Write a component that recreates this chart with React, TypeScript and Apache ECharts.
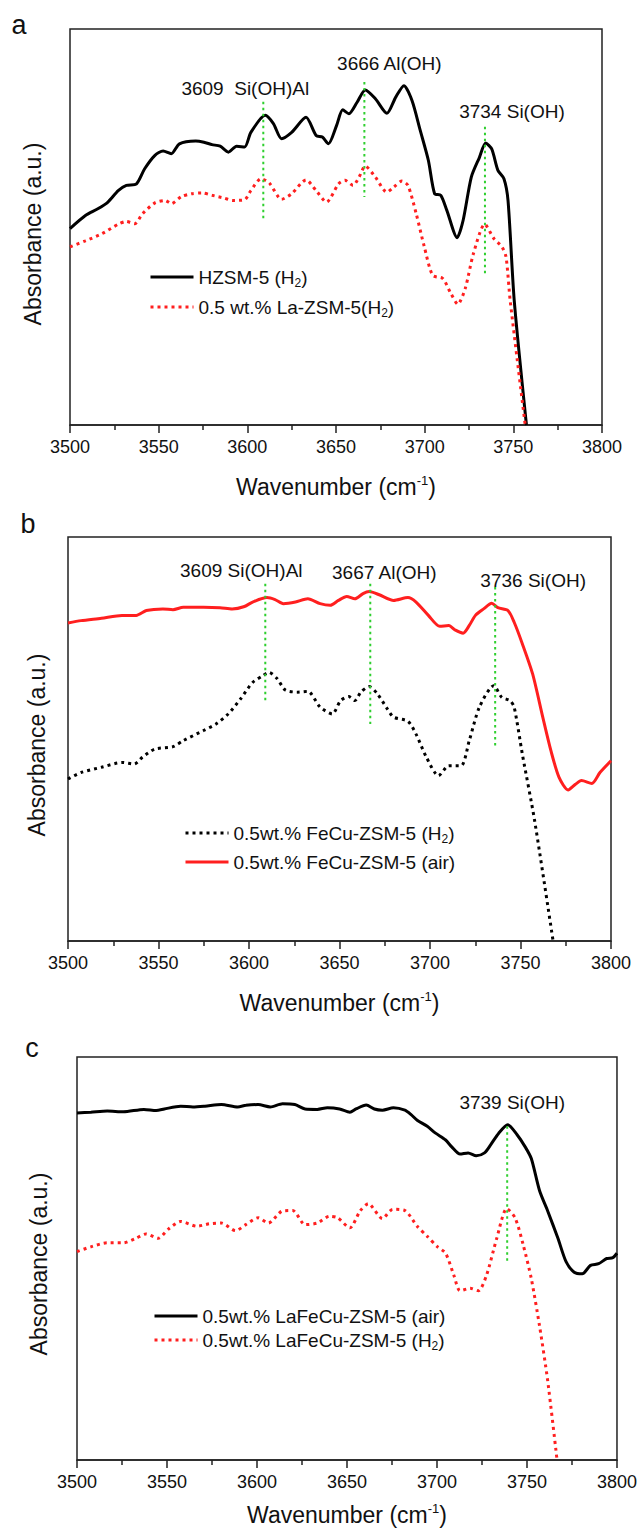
import React, { useEffect, useRef } from "react";
import * as echarts from "echarts";

const FONT = "'Liberation Sans', Arial, Helvetica, sans-serif";

// ---------- shared axis ----------
const X_MIN = 3500;
const X_MAX = 3800;
const X_STEP = 50;

// ---------- panel a ----------
const aHZSM5: [number, number][] = [
  [3500, 0.496], [3508.7, 0.529], [3515.7, 0.546], [3521.4, 0.563], [3527.2, 0.592],
  [3531.8, 0.605], [3537.5, 0.609], [3542.1, 0.647], [3547.9, 0.681], [3552.5, 0.692],
  [3557.1, 0.685], [3561.7, 0.71], [3570.9, 0.717], [3575.5, 0.714], [3580.1, 0.708],
  [3584.7, 0.704], [3589.3, 0.689], [3593.9, 0.704], [3598.5, 0.702], [3602.0, 0.739],
  [3610.1, 0.782], [3614.7, 0.761], [3619.3, 0.723], [3625.0, 0.739], [3633.1, 0.777],
  [3638.8, 0.731], [3642.3, 0.727], [3645.7, 0.71], [3650.3, 0.756], [3653.8, 0.796],
  [3657.3, 0.786], [3661.9, 0.815], [3666.5, 0.846], [3672.2, 0.824], [3678.7, 0.787],
  [3683.7, 0.828], [3688.3, 0.857], [3692.9, 0.819], [3697.5, 0.744], [3702.1, 0.668],
  [3705.6, 0.584], [3709.1, 0.58], [3712.5, 0.542], [3718.3, 0.473], [3721.7, 0.517],
  [3726.3, 0.626], [3730.9, 0.676], [3734.4, 0.712], [3737.8, 0.697], [3741.3, 0.643],
  [3744.7, 0.622], [3747.0, 0.567], [3750.5, 0.315], [3757.4, 0.0],
];
const aLaZSM5: [number, number][] = [
  [3500, 0.45], [3508.7, 0.465], [3518.0, 0.483], [3527.2, 0.507], [3531.8, 0.514],
  [3536.4, 0.508], [3541.0, 0.534], [3547.9, 0.561], [3553.6, 0.567], [3557.1, 0.559],
  [3562.9, 0.577], [3568.6, 0.584], [3574.4, 0.586], [3580.1, 0.58], [3587.0, 0.573],
  [3591.6, 0.567], [3598.5, 0.569], [3602.0, 0.592], [3607.8, 0.622], [3612.4, 0.611],
  [3619.3, 0.57], [3625.0, 0.584], [3633.1, 0.619], [3638.8, 0.592], [3644.6, 0.563],
  [3651.5, 0.609], [3655.0, 0.618], [3659.6, 0.605], [3663.0, 0.626], [3666.5, 0.654],
  [3672.2, 0.626], [3678.7, 0.588], [3682.6, 0.601], [3687.2, 0.616], [3690.6, 0.605],
  [3695.2, 0.534], [3699.8, 0.45], [3704.5, 0.378], [3710.2, 0.37], [3714.8, 0.332],
  [3718.7, 0.305], [3722.9, 0.345], [3727.5, 0.433], [3733.9, 0.507], [3739.0, 0.471],
  [3743.6, 0.45], [3745.9, 0.424], [3748.2, 0.315], [3756.7, 0.0],
];
const aPeaks = [
  { wn: 3609, top: 0.816, bottom: 0.521, text: "3609  Si(OH)Al" },
  { wn: 3666, top: 0.866, bottom: 0.576, text: "3666 Al(OH)" },
  { wn: 3734, top: 0.753, bottom: 0.376, text: "3734 Si(OH)" },
];

// ---------- panel b ----------
const bFeCuAir: [number, number][] = [
  [3500, 0.787], [3507.2, 0.793], [3518.5, 0.799], [3529.8, 0.806], [3537.7, 0.806],
  [3543.3, 0.818], [3552.4, 0.822], [3558.0, 0.82], [3563.7, 0.826], [3574.9, 0.826],
  [3584.0, 0.825], [3590.7, 0.822], [3597.5, 0.828], [3602.0, 0.839], [3609.9, 0.85],
  [3614.4, 0.845], [3619.0, 0.835], [3625.7, 0.839], [3632.5, 0.847], [3639.3, 0.835],
  [3644.9, 0.831], [3649.4, 0.843], [3654.0, 0.853], [3658.5, 0.847], [3663.0, 0.86],
  [3666.4, 0.865], [3672.0, 0.857], [3679.9, 0.843], [3687.8, 0.85], [3692.3, 0.839],
  [3699.1, 0.806], [3705.4, 0.779], [3710.4, 0.781], [3713.8, 0.77], [3718.3, 0.762],
  [3721.7, 0.781], [3725.1, 0.806], [3729.6, 0.822], [3734.1, 0.836], [3737.5, 0.825],
  [3743.1, 0.818], [3746.5, 0.789], [3751.0, 0.736], [3756.7, 0.661], [3762.3, 0.554],
  [3766.8, 0.471], [3771.3, 0.405], [3776.3, 0.374], [3780.4, 0.388], [3783.7, 0.397],
  [3789.4, 0.39], [3793.9, 0.417], [3800, 0.446],
];
const bFeCuH2: [number, number][] = [
  [3500, 0.401], [3507.2, 0.417], [3518.5, 0.43], [3529.8, 0.442], [3536.6, 0.438],
  [3541.1, 0.455], [3547.9, 0.475], [3558.0, 0.481], [3563.7, 0.496], [3574.9, 0.521],
  [3581.7, 0.537], [3588.5, 0.562], [3595.3, 0.599], [3602.0, 0.64], [3607.7, 0.657],
  [3611.1, 0.665], [3615.6, 0.649], [3620.1, 0.621], [3626.9, 0.616], [3632.5, 0.618],
  [3639.3, 0.579], [3646.0, 0.562], [3650.6, 0.595], [3655.1, 0.605], [3658.5, 0.595],
  [3661.8, 0.616], [3666.4, 0.63], [3670.9, 0.612], [3676.5, 0.574], [3679.9, 0.554],
  [3687.8, 0.544], [3692.3, 0.512], [3698.0, 0.455], [3704.7, 0.409], [3710.4, 0.434],
  [3717.2, 0.434], [3721.7, 0.496], [3727.3, 0.579], [3735.2, 0.632], [3739.7, 0.603],
  [3744.2, 0.595], [3746.5, 0.579], [3751.0, 0.463], [3757.8, 0.298], [3768.0, 0.0],
];
const bPeaks = [
  { wn: 3609, top: 0.884, bottom: 0.595, text: "3609 Si(OH)Al" },
  { wn: 3667, top: 0.884, bottom: 0.537, text: "3667 Al(OH)" },
  { wn: 3736, top: 0.876, bottom: 0.483, text: "3736 Si(OH)" },
];

// ---------- panel c ----------
const cLaFeCuAir: [number, number][] = [
  [3500, 0.861], [3507.7, 0.863], [3516.8, 0.866], [3525.8, 0.864], [3537.2, 0.87],
  [3544.0, 0.867], [3548.5, 0.871], [3557.6, 0.878], [3564.4, 0.876], [3571.1, 0.878],
  [3580.2, 0.882], [3589.3, 0.876], [3593.8, 0.88], [3600.6, 0.882], [3607.4, 0.876],
  [3614.2, 0.884], [3621.0, 0.882], [3626.7, 0.871], [3633.5, 0.87], [3639.1, 0.874],
  [3645.9, 0.871], [3651.6, 0.863], [3655.0, 0.871], [3660.7, 0.881], [3665.2, 0.871],
  [3669.7, 0.868], [3675.8, 0.874], [3682.2, 0.868], [3685.6, 0.857], [3689.0, 0.843],
  [3694.6, 0.828], [3699.2, 0.811], [3704.8, 0.794], [3708.2, 0.777], [3712.8, 0.759],
  [3717.3, 0.762], [3721.8, 0.755], [3726.4, 0.762], [3729.8, 0.782], [3734.3, 0.811],
  [3739.3, 0.832], [3744.5, 0.807], [3749.0, 0.777], [3752.4, 0.748], [3757.0, 0.668],
  [3761.5, 0.618], [3767.2, 0.55], [3771.7, 0.492], [3776.2, 0.466], [3780.7, 0.462],
  [3785.3, 0.483], [3789.8, 0.487], [3794.3, 0.5], [3797.7, 0.502], [3800, 0.513],
];
const cLaFeCuH2: [number, number][] = [
  [3500, 0.517], [3507.7, 0.529], [3516.8, 0.539], [3525.8, 0.539], [3532.6, 0.55],
  [3538.3, 0.561], [3545.1, 0.55], [3550.8, 0.573], [3557.6, 0.592], [3566.6, 0.58],
  [3573.4, 0.586], [3580.2, 0.588], [3588.1, 0.569], [3593.8, 0.584], [3600.6, 0.601],
  [3606.3, 0.588], [3614.2, 0.618], [3619.9, 0.619], [3626.7, 0.584], [3633.5, 0.588],
  [3640.3, 0.605], [3644.8, 0.601], [3651.6, 0.576], [3657.3, 0.618], [3661.8, 0.636],
  [3669.7, 0.599], [3675.4, 0.622], [3682.2, 0.619], [3689.0, 0.58], [3694.6, 0.555],
  [3700.3, 0.529], [3704.8, 0.513], [3709.4, 0.458], [3712.8, 0.42], [3718.4, 0.426],
  [3723.0, 0.42], [3727.5, 0.458], [3733.2, 0.55], [3738.8, 0.624], [3743.4, 0.601],
  [3747.9, 0.534], [3752.4, 0.45], [3757.0, 0.332], [3761.5, 0.197], [3766.7, 0.0],
];
const cPeaks = [{ wn: 3739, top: 0.828, bottom: 0.492, text: "3739 Si(OH)" }];

// ---------- layout (positions / styles) ----------
const GRIDS = [
  { left: 70, top: 29, width: 532, height: 396 },
  { left: 68, top: 537, width: 543, height: 404 },
  { left: 77, top: 1057, width: 540, height: 403 },
];
const PEAK_LABEL_OFFSETS = [
  [[-18, -13], [25, -19], [27, -15]],
  [[-24, -13], [14, -11], [38, -7]],
  [[5, -24]],
];
const LEGENDS = [
  { left: 149, top: 265, gap: 6 },
  { left: 184, top: 821, gap: 5 },
  { left: 153, top: 1304, gap: 0 },
];
const PANEL_LETTERS = [
  { t: "a", x: 19, y: 25 },
  { t: "b", x: 28, y: 524 },
  { t: "c", x: 32, y: 1048 },
];
const X_TITLE_Y = [487, 1003, 1515];
const Y_TITLE = [
  { x: 33, y: 234 },
  { x: 37, y: 745 },
  { x: 39, y: 1264 },
];

const BLACK = "#000000";
const RED = "#ff1f1f";
const GREEN = "#2fcf2f";
const DOT: number[] = [3, 4];
const TEXT = "#111111";

const subRich = {
  sub: { fontSize: 12, lineHeight: 12, verticalAlign: "bottom", fontFamily: FONT, color: TEXT },
};

function curve(name: string, data: [number, number][], gi: number, color: string, dotted: boolean) {
  return {
    type: "line",
    name,
    data,
    xAxisIndex: gi,
    yAxisIndex: gi,
    symbol: "none",
    showSymbol: false,
    smooth: 0.25,
    silent: true,
    z: 3,
    lineStyle: { color, width: 3, type: dotted ? DOT : "solid", cap: "butt" },
    itemStyle: { color },
  };
}

function peakSeries(peaks: { wn: number; top: number; bottom: number; text: string }[], gi: number) {
  const out: any[] = [];
  peaks.forEach((p, i) => {
    out.push({
      type: "line",
      data: [[p.wn, p.top], [p.wn, p.bottom]],
      xAxisIndex: gi,
      yAxisIndex: gi,
      symbol: "none",
      silent: true,
      z: 4,
      lineStyle: { color: GREEN, width: 2, type: [2.5, 3.5] },
    });
    const off = PEAK_LABEL_OFFSETS[gi][i];
    out.push({
      type: "scatter",
      data: [[p.wn, p.top]],
      xAxisIndex: gi,
      yAxisIndex: gi,
      symbolSize: 1,
      silent: true,
      z: 5,
      itemStyle: { color: "rgba(0,0,0,0)" },
      label: {
        show: true,
        position: "inside",
        offset: off,
        formatter: () => p.text,
        fontSize: 19,
        fontFamily: FONT,
        color: TEXT,
        textBorderWidth: 0,
        textBorderColor: "transparent",
        opacity: 1,
      },
    });
  });
  return out;
}

export default function App() {
  const ref = useRef<HTMLDivElement>(null);

  useEffect(() => {
    if (!ref.current) return;
    const chart = echarts.init(ref.current, undefined, { renderer: "svg" });

    const panelSeries = [
      [
        curve("HZSM-5 (H2)", aHZSM5, 0, BLACK, false),
        curve("0.5 wt.% La-ZSM-5(H2)", aLaZSM5, 0, RED, true),
      ],
      [
        curve("0.5wt.% FeCu-ZSM-5 (H2)", bFeCuH2, 1, BLACK, true),
        curve("0.5wt.% FeCu-ZSM-5 (air)", bFeCuAir, 1, RED, false),
      ],
      [
        curve("0.5wt.% LaFeCu-ZSM-5 (air)", cLaFeCuAir, 2, BLACK, false),
        curve("0.5wt.% LaFeCu-ZSM-5 (H2)", cLaFeCuH2, 2, RED, true),
      ],
    ];

    const series: any[] = [];
    panelSeries.forEach((ps) => ps.forEach((s) => series.push(s)));
    series.push(...peakSeries(aPeaks, 0), ...peakSeries(bPeaks, 1), ...peakSeries(cPeaks, 2));

    const legends = panelSeries.map((ps, i) => ({
      orient: "vertical",
      left: LEGENDS[i].left,
      top: LEGENDS[i].top,
      padding: 0,
      itemGap: LEGENDS[i].gap,
      itemWidth: 43,
      itemHeight: 14,
      selectedMode: false,
      data: ps.map((s) => s.name),
      lineStyle: { width: 3 },
      itemStyle: { opacity: 0 },
      formatter: (n: string) => n.replace("(H2)", "(H{sub|2})"),
      textStyle: {
        fontSize: 19,
        fontFamily: FONT,
        color: TEXT,
        lineHeight: 24,
        rich: subRich,
      },
    }));

    const graphic: any[] = [];
    PANEL_LETTERS.forEach((l) =>
      graphic.push({
        type: "text",
        x: l.x,
        y: l.y,
        style: { text: l.t, fontSize: 27, fontFamily: FONT, fill: TEXT, align: "center", verticalAlign: "middle" },
      })
    );
    GRIDS.forEach((g, i) => {
      graphic.push({
        type: "text",
        x: g.left + g.width / 2,
        y: X_TITLE_Y[i],
        style: {
          text: "Wavenumber (cm{sup|-1})",
          fontSize: 23,
          lineHeight: 26,
          fontFamily: FONT,
          fill: TEXT,
          align: "center",
          verticalAlign: "middle",
          rich: {
            sup: { fontSize: 13, lineHeight: 13, verticalAlign: "top", fontFamily: FONT, fill: TEXT },
          },
        },
      });
      graphic.push({
        type: "text",
        x: Y_TITLE[i].x,
        y: Y_TITLE[i].y,
        rotation: Math.PI / 2,
        style: {
          text: "Absorbance (a.u.)",
          fontSize: 23,
          fontFamily: FONT,
          fill: TEXT,
          align: "center",
          verticalAlign: "middle",
        },
      });
    });

    const axisColor = "#222222";
    const option: any = {
      animation: false,
      backgroundColor: "#ffffff",
      textStyle: { fontFamily: FONT },
      grid: GRIDS.map((g) => ({
        ...g,
        show: true,
        borderColor: axisColor,
        borderWidth: 1.5,
        backgroundColor: "transparent",
        containLabel: false,
      })),
      xAxis: GRIDS.map((_, i) => ({
        type: "value",
        gridIndex: i,
        min: X_MIN,
        max: X_MAX,
        interval: X_STEP,
        axisLine: { show: true, onZero: false, lineStyle: { color: axisColor, width: 1.5 } },
        axisTick: { show: true, inside: false, length: 8, lineStyle: { color: axisColor, width: 1.5 } },
        minorTick: { show: true, splitNumber: 2, length: 5, lineStyle: { color: axisColor, width: 1.5 } },
        axisLabel: {
          fontSize: 18,
          fontFamily: FONT,
          color: TEXT,
          margin: 13,
          formatter: (v: number) => String(v),
        },
        splitLine: { show: false },
        minorSplitLine: { show: false },
      })),
      yAxis: GRIDS.map((_, i) => ({
        type: "value",
        gridIndex: i,
        min: 0,
        max: 1,
        show: false,
        splitLine: { show: false },
      })),
      legend: legends,
      graphic,
      series,
    };

    chart.setOption(option);
    return () => chart.dispose();
  }, []);

  return (
    <div
      ref={ref}
      style={{ position: "absolute", left: 0, top: 0, width: 640, height: 1531, background: "#fff" }}
    />
  );
}
